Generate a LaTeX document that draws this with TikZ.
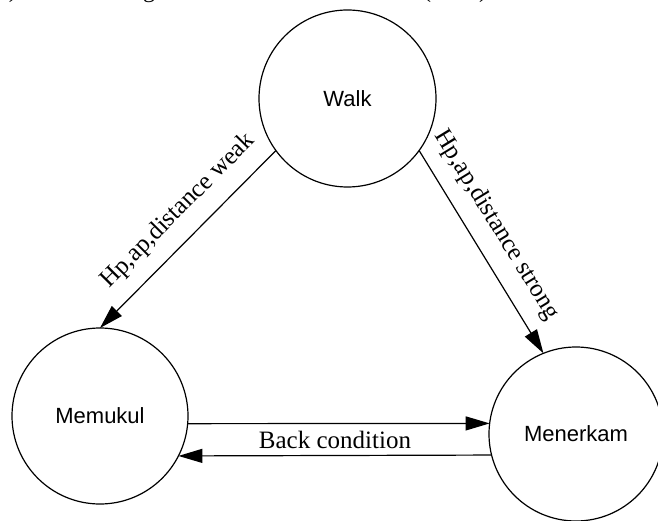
\documentclass[tikz,border=0pt]{standalone}
\usepackage{fontspec}
\setmainfont{Liberation Serif}
\newfontfamily\arialfont{Liberation Sans}
\usetikzlibrary{arrows.meta}
\begin{document}
\begin{tikzpicture}[x=1pt,y=-1pt,
  state/.style={circle, draw, line width=1.2pt, inner sep=0pt, outer sep=0pt,
    font=\arialfont\fontsize{22}{26}\selectfont},
  trans/.style={line width=1.2pt, -{Triangle[length=24pt,width=14pt]}},
  lbl/.style={font=\fontsize{25}{30}\selectfont, inner sep=0pt},
  toptext/.style={font=\fontsize{24}{28}\selectfont, inner sep=0pt}]
\useasboundingbox (0,0) rectangle (658,521);
\clip (0,0) rectangle (658,521);

% cut-off heading at the top
\node[toptext, anchor=base east] (hd1) at (17,-2) {b)};
\node[toptext, anchor=base west] (hd2) at (55,-2) {\makebox[432pt][s]{Perancangan Finite State Machine (FSM)}};

% states
\node[state, minimum size=177pt] (walk) at (347.5,98.5) {Walk};
\node[state, minimum size=176pt] (memukul) at (100,416) {Memukul};
\node[state, minimum size=174pt] (menerkam) at (576,434) {Menerkam};

% transitions
\draw[trans] (walk.216.8) -- (memukul.north)
  node[lbl, pos=0.447, sloped, above=15pt] {Hp,ap,distance weak};
\draw[trans] (walk.-36.4) -- (menerkam.112.5)
  node[lbl, pos=0.437, sloped, above=15pt] {Hp,ap,distance strong};
\draw[trans] (memukul.-5.2) -- (menerkam.173.4);
\draw[trans] (menerkam.194.65) -- (memukul.-27)
  node[lbl, midway, above=6pt] {Back condition};
\end{tikzpicture}
\end{document}
